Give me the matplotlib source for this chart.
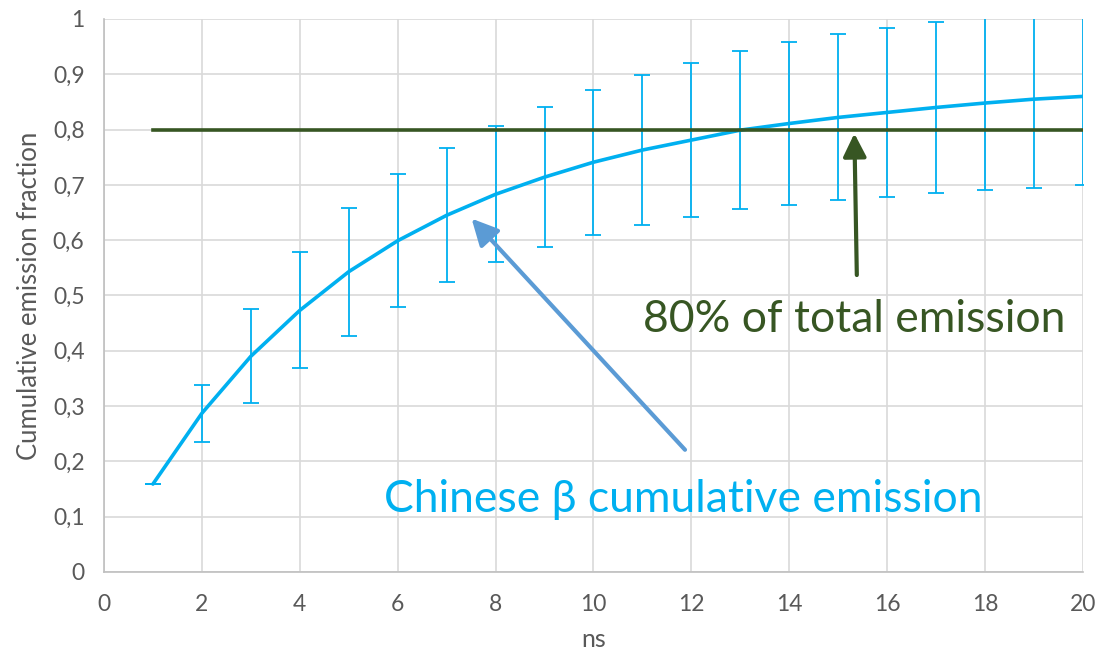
import matplotlib.pyplot as plt
import numpy as np

plt.rcParams["font.family"] = ["Lato", "DejaVu Sans"]

# cumulative emission fraction per ns, with symmetric error half-widths
ns = [1, 2, 3, 4, 5, 6, 7, 8, 9, 10, 11, 12, 13, 14, 15, 16, 17, 18, 19, 20]
cum_frac = [0.159, 0.287, 0.390, 0.473, 0.543, 0.599, 0.645, 0.683, 0.714, 0.741,
            0.763, 0.781, 0.799, 0.811, 0.822, 0.831, 0.840, 0.848, 0.855, 0.860]
err = [0.0, 0.052, 0.085, 0.105, 0.116, 0.120, 0.121, 0.123, 0.126, 0.131,
       0.135, 0.139, 0.143, 0.147, 0.150, 0.153, 0.155, 0.158, 0.160, 0.161]

threshold_x = [1, 20]
threshold_y = [0.8, 0.8]

x_ticks = [0, 2, 4, 6, 8, 10, 12, 14, 16, 18, 20]
y_ticks = [0, 0.1, 0.2, 0.3, 0.4, 0.5, 0.6, 0.7, 0.8, 0.9, 1.0]
y_tick_labels = ["0", "0,1", "0,2", "0,3", "0,4", "0,5", "0,6", "0,7", "0,8", "0,9", "1"]

BLUE = "#00B0F0"
GREEN = "#375623"
ARROW_BLUE = "#5B9BD5"
AXIS_GREY = "#595959"

fig = plt.figure(figsize=(10.98, 6.52), dpi=100)
ax = fig.add_axes([0.0947, 0.1227, 0.8916, 0.8482])

ax.errorbar(ns, cum_frac, yerr=err, fmt="none", ecolor=BLUE, elinewidth=1.3,
            capsize=6, capthick=1.3, zorder=3)
ax.plot(ns, cum_frac, color=BLUE, linewidth=2.6, solid_capstyle="round", zorder=4)
ax.plot(threshold_x, threshold_y, color=GREEN, linewidth=2.6, zorder=5)

ax.set_xlim(0, 20)
ax.set_ylim(0, 1)
ax.set_xticks(x_ticks)
ax.set_yticks(y_ticks)
ax.set_yticklabels(y_tick_labels)
ax.tick_params(length=0, labelsize=16.5, colors=AXIS_GREY)
ax.tick_params(axis="y", pad=14)
ax.tick_params(axis="x", pad=16)
ax.grid(True, color="#d9d9d9", linewidth=1.2)
ax.set_axisbelow(True)
for side in ("top", "right"):
    ax.spines[side].set_visible(False)
for side in ("left", "bottom"):
    ax.spines[side].set_color("#bfbfbf")
    ax.spines[side].set_linewidth(1.2)

ax.set_xlabel("ns", fontsize=18, color=AXIS_GREY, labelpad=9)
ax.set_ylabel("Cumulative emission fraction", fontsize=18.5, color=AXIS_GREY,
              labelpad=8)

# callouts
ax.annotate("", xy=(7.51, 0.639), xytext=(11.87, 0.221),
            arrowprops=dict(arrowstyle="-|>,head_length=0.8,head_width=0.4",
                            color=ARROW_BLUE, lw=3, mutation_scale=20,
                            shrinkA=0, shrinkB=0), zorder=6)
ax.annotate("", xy=(15.33, 0.793), xytext=(15.38, 0.537),
            arrowprops=dict(arrowstyle="-|>,head_length=0.7,head_width=0.35",
                            color=GREEN, lw=3, mutation_scale=20,
                            shrinkA=0, shrinkB=0), zorder=6)

ax.text(15.32, 0.4345, "80% of total emission", color=GREEN, fontsize=32,
        ha="center", va="baseline")
ax.text(11.84, 0.108, "Chinese β cumulative emission", color=BLUE, fontsize=32,
        ha="center", va="baseline")

fig.savefig("out.png", dpi=100)
